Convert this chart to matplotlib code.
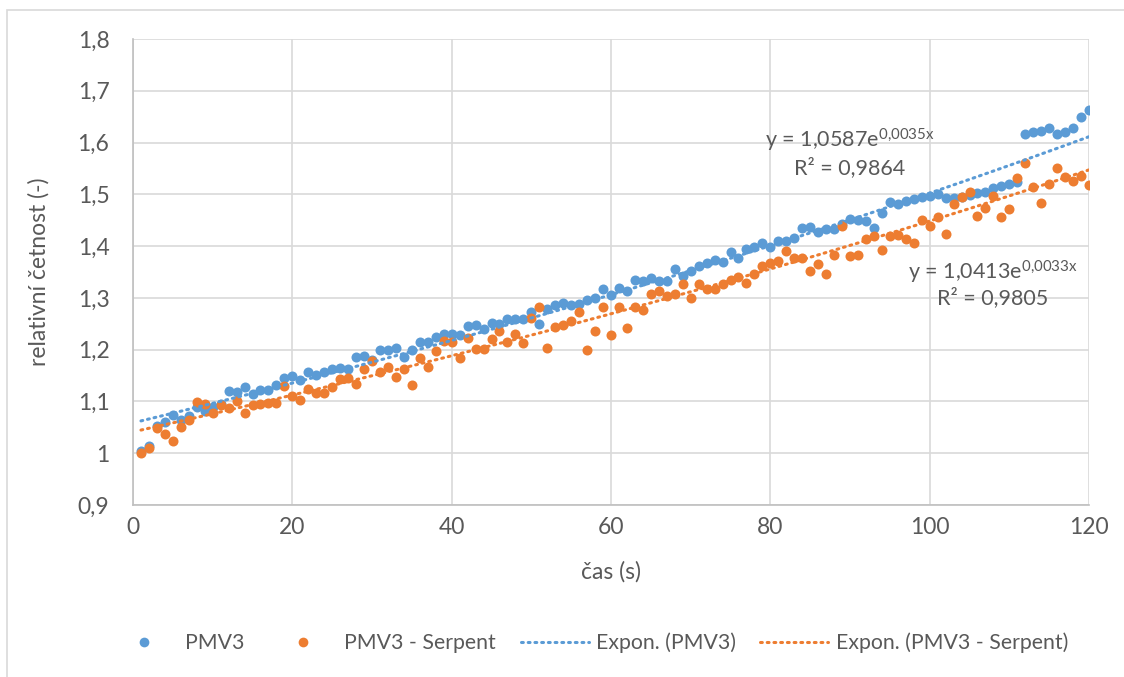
import numpy as np
import matplotlib
matplotlib.use("Agg")
import matplotlib.pyplot as plt
from matplotlib.lines import Line2D
from matplotlib.patches import Rectangle

plt.rcParams['font.family'] = ['Lato', 'DejaVu Sans']
plt.rcParams['mathtext.fontset'] = 'custom'
plt.rcParams['mathtext.rm'] = 'Lato'
plt.rcParams['mathtext.default'] = 'regular'

# data
cas = list(range(1, 121))

pmv3 = [1.004, 1.014, 1.052, 1.060, 1.074, 1.064, 1.072, 1.090, 1.082, 1.090,
        1.095, 1.120, 1.118, 1.128, 1.115, 1.122, 1.122, 1.132, 1.146, 1.150,
        1.142, 1.157, 1.152, 1.157, 1.163, 1.165, 1.163, 1.186, 1.188, 1.180,
        1.200, 1.200, 1.204, 1.186, 1.200, 1.215, 1.215, 1.225, 1.231, 1.231,
        1.229, 1.245, 1.247, 1.239, 1.252, 1.250, 1.260, 1.260, 1.260, 1.272,
        1.250, 1.278, 1.287, 1.291, 1.287, 1.289, 1.295, 1.299, 1.318, 1.305,
        1.320, 1.313, 1.334, 1.332, 1.338, 1.332, 1.332, 1.355, 1.342, 1.351,
        1.361, 1.367, 1.373, 1.369, 1.388, 1.377, 1.394, 1.398, 1.406, 1.398,
        1.410, 1.410, 1.416, 1.435, 1.437, 1.427, 1.433, 1.433, 1.443, 1.452,
        1.450, 1.448, 1.435, 1.464, 1.485, 1.482, 1.487, 1.491, 1.495, 1.497,
        1.500, 1.493, 1.493, 1.495, 1.499, 1.503, 1.505, 1.512, 1.516, 1.520,
        1.524, 1.617, 1.621, 1.623, 1.629, 1.617, 1.621, 1.629, 1.650, 1.662]

serpent = [1.000, 1.010, 1.049, 1.037, 1.023, 1.050, 1.064, 1.099, 1.095, 1.078,
           1.093, 1.087, 1.100, 1.078, 1.093, 1.095, 1.097, 1.097, 1.130, 1.110,
           1.103, 1.125, 1.117, 1.117, 1.128, 1.144, 1.146, 1.134, 1.163, 1.178,
           1.157, 1.167, 1.148, 1.163, 1.132, 1.184, 1.167, 1.198, 1.217, 1.215,
           1.184, 1.223, 1.202, 1.202, 1.221, 1.237, 1.214, 1.231, 1.212, 1.262,
           1.282, 1.204, 1.243, 1.247, 1.256, 1.272, 1.200, 1.237, 1.282, 1.229,
           1.283, 1.241, 1.283, 1.276, 1.307, 1.313, 1.303, 1.307, 1.326, 1.299,
           1.326, 1.318, 1.318, 1.326, 1.334, 1.340, 1.328, 1.346, 1.361, 1.367,
           1.371, 1.390, 1.377, 1.377, 1.351, 1.365, 1.346, 1.383, 1.439, 1.381,
           1.383, 1.414, 1.419, 1.392, 1.419, 1.422, 1.414, 1.406, 1.450, 1.439,
           1.456, 1.423, 1.482, 1.495, 1.505, 1.458, 1.474, 1.497, 1.456, 1.472,
           1.532, 1.561, 1.515, 1.484, 1.520, 1.550, 1.534, 1.526, 1.536, 1.518]

# exponential trend coefficients shown on the chart
fit_pmv3 = (1.0587, 0.0035)
fit_serpent = (1.0413, 0.0033)

yticks = [0.9, 1.0, 1.1, 1.2, 1.3, 1.4, 1.5, 1.6, 1.7, 1.8]
ylabels = ['0,9', '1', '1,1', '1,2', '1,3', '1,4', '1,5', '1,6', '1,7', '1,8']

blue = '#5B9BD5'
orange = '#ED7D31'
txt = '#595959'
grid = '#D9D9D9'

fig = plt.figure(figsize=(11.24, 6.77), dpi=100)
# chart area border
fig.patches.append(Rectangle((7 / 1124, -0.05), 1.2, 1 - 10 / 677 + 0.05,
                             transform=fig.transFigure, fill=False,
                             edgecolor=grid, lw=1.2))
ax = fig.add_axes([133 / 1124, 1 - 505 / 677, (1089 - 133) / 1124, (505 - 39) / 677])

ax.scatter(cas, pmv3, s=52, color=blue, zorder=3, linewidths=0)
ax.scatter(cas, serpent, s=52, color=orange, zorder=4, linewidths=0)

xt = np.array(cas, dtype=float)
ax.plot(xt, fit_pmv3[0] * np.exp(fit_pmv3[1] * xt), color=blue, lw=2.2,
        linestyle=(0, (0.6, 1.6)), dash_capstyle='round', zorder=5)
ax.plot(xt, fit_serpent[0] * np.exp(fit_serpent[1] * xt), color=orange, lw=2.2,
        linestyle=(0, (0.6, 1.6)), dash_capstyle='round', zorder=5)

ax.set_xlim(0, 120)
ax.set_ylim(0.9, 1.8)
ax.set_xticks(range(0, 121, 20))
ax.set_xticklabels([str(v) for v in range(0, 121, 20)])
ax.set_yticks(yticks)
ax.set_yticklabels(ylabels)
ax.tick_params(length=0, labelsize=16.5, colors=txt)
ax.tick_params(axis='y', pad=17)
ax.tick_params(axis='x', pad=9)
ax.grid(True, color=grid, lw=1.2)
ax.set_axisbelow(True)
for s in ['top', 'right']:
    ax.spines[s].set_visible(False)
for s in ['left', 'bottom']:
    ax.spines[s].set_color('#BFBFBF')
    ax.spines[s].set_linewidth(1.2)

ax.set_xlabel('čas (s)', fontsize=16.5, color=txt, labelpad=16)
ax.set_ylabel('relativní četnost (-)', fontsize=16.5, color=txt, labelpad=20)

ax.text(850 / 1124, 1 - 140 / 677, r'y = 1,0587e$^{0{,}0035x}$', transform=fig.transFigure,
        fontsize=15.5, color=txt, ha='center', va='center')
ax.text(850 / 1124, 1 - 168 / 677, 'R² = 0,9864', transform=fig.transFigure,
        fontsize=15.5, color=txt, ha='center', va='center')
ax.text(993 / 1124, 1 - 272 / 677, r'y = 1,0413e$^{0{,}0033x}$', transform=fig.transFigure,
        fontsize=15.5, color=txt, ha='center', va='center')
ax.text(993 / 1124, 1 - 298 / 677, 'R² = 0,9805', transform=fig.transFigure,
        fontsize=15.5, color=txt, ha='center', va='center')

handles = [
    Line2D([], [], ls='none', marker='o', ms=7, color=blue, mew=0),
    Line2D([], [], ls='none', marker='o', ms=7, color=orange, mew=0),
    Line2D([], [], color=blue, lw=2.2, ls=(0, (0.6, 1.6)), dash_capstyle='round'),
    Line2D([], [], color=orange, lw=2.2, ls=(0, (0.6, 1.6)), dash_capstyle='round'),
]
labels = ['PMV3', 'PMV3 - Serpent', 'Expon. (PMV3)', 'Expon. (PMV3 - Serpent)']
leg = fig.legend(handles, labels, loc='center', bbox_to_anchor=(589 / 1124, 1 - 643 / 677),
                 ncol=4, frameon=False, fontsize=15.3, handlelength=3.2,
                 columnspacing=1.15, handletextpad=0.35)
for t in leg.get_texts():
    t.set_color(txt)

fig.savefig('out.png', dpi=100)
